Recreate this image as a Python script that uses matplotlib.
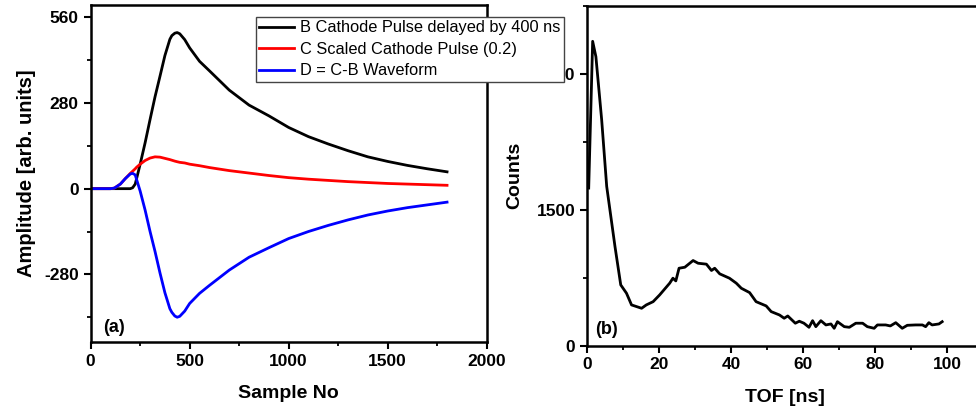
import numpy as np
import matplotlib
matplotlib.use("Agg")
import matplotlib.pyplot as plt
from matplotlib.ticker import MultipleLocator

plt.rcParams['font.family'] = ['Liberation Sans', 'DejaVu Sans']
plt.rcParams['axes.unicode_minus'] = False

# (a) waveforms
sample_no = [0, 100, 120, 150, 175, 200, 212, 225, 232, 250, 275, 300, 325, 350, 375,
             400, 410, 425, 437, 450, 475, 500, 550, 600, 700, 800, 900, 1000, 1100, 1200,
             1300, 1400, 1500, 1600, 1700, 1800]
pulse_b = [0, 0, 0, 0, 0, 0, 3, 15, 33, 80, 150, 226, 300, 367, 435,
           488, 500, 508, 510, 506, 487, 460, 416, 385, 322, 273, 238, 200, 170, 146,
           124, 104, 89, 76, 65, 55]
pulse_c = [0, 0, 2, 15, 33, 50, 57, 65, 70, 80, 92, 100, 104, 103, 99,
           95, 93, 90, 88, 86, 84, 80, 75, 69, 59, 51, 43, 36, 31, 27,
           23, 20, 17, 15, 13, 11]
pulse_d = [0, 0, 2, 15, 33, 48, 50, 45, 30, -8, -70, -140, -205, -275, -340,
           -392, -404, -416, -420, -417, -400, -375, -342, -316, -266, -224, -193, -163, -140, -120,
           -102, -86, -73, -62, -53, -44]

# (b) TOF spectrum
tof = [0.4, 1.5, 2.4, 4.0, 5.4, 7.7, 9.3, 10.9, 12.3, 15.1, 16.4, 18.3, 20.1, 22.9,
       23.8, 24.6, 25.5, 27.1, 29.4, 30.8, 33.1, 34.5, 35.4, 36.8, 39.5, 41.4, 42.8,
       45.1, 46.9, 49.7, 51.1, 53.4, 54.7, 55.7, 57.8, 58.9, 60.2, 61.6, 62.6, 63.5,
       64.9, 66.3, 67.7, 68.6, 69.5, 71.4, 72.8, 74.6, 76.5, 77.8, 79.7, 80.6, 82.9,
       84.2, 85.7, 87.5, 88.9, 91.2, 93.1, 94.0, 94.9, 95.8, 97.7, 98.6]
counts = [1740, 3360, 3190, 2495, 1758, 1095, 671, 579, 450, 413, 450, 486, 560, 690,
          745, 715, 855, 866, 940, 910, 900, 830, 855, 793, 745, 690, 634,
          586, 486, 439, 376, 339, 303, 328, 248, 270, 248, 203, 276, 210,
          276, 229, 240, 192, 265, 210, 203, 248, 248, 210, 192, 229, 229,
          218, 254, 192, 225, 229, 229, 210, 254, 229, 240, 265]

fig = plt.figure(figsize=(9.76, 4.18), dpi=100)
ax1 = fig.add_axes([0.0929, 0.1825, 0.4057, 0.8055])
ax2 = fig.add_axes([0.6017, 0.173, 0.4057, 0.8127])

lb, = ax1.plot(sample_no, pulse_b, color='black', lw=2.0, label='B Cathode Pulse delayed by 400 ns')
lc, = ax1.plot(sample_no, pulse_c, color='red', lw=2.0, label='C Scaled Cathode Pulse (0.2)')
ld, = ax1.plot(sample_no, pulse_d, color='blue', lw=2.0, label='D = C-B Waveform')
ax1.set_xlim(0, 2000)
ax1.set_ylim(-500, 600)
ax1.set_yticks([-280, 0, 280, 560])
ax1.xaxis.set_major_locator(MultipleLocator(500))
ax1.xaxis.set_minor_locator(MultipleLocator(250))
ax1.yaxis.set_minor_locator(MultipleLocator(140))
ax1.set_xlabel('Sample No', fontsize=14, fontweight='bold', labelpad=12)
ax1.set_ylabel('Amplitude [arb. units]', fontsize=14.5, fontweight='bold', labelpad=6)
ax1.text(0.032, 0.03, '(a)', transform=ax1.transAxes, fontsize=13, fontweight='bold')

ax2.plot(tof, counts, color='black', lw=2.0)
ax2.set_xlim(0, 110)
ax2.set_ylim(0, 3750)
ax2.set_yticks([0, 1500, 3000])
ax2.xaxis.set_major_locator(MultipleLocator(20))
ax2.xaxis.set_minor_locator(MultipleLocator(10))
ax2.yaxis.set_minor_locator(MultipleLocator(750))
ax2.set_xlabel('TOF [ns]', fontsize=14, fontweight='bold', labelpad=12)
ax2.set_ylabel('Counts', fontsize=14, fontweight='bold', labelpad=10)
ax2.text(0.02, 0.035, '(b)', transform=ax2.transAxes, fontsize=13, fontweight='bold')

for ax in (ax1, ax2):
    for s in ax.spines.values():
        s.set_linewidth(1.8)
    ax.tick_params(which='major', direction='out', length=5, width=1.5, labelsize=12.5)
    ax.tick_params(which='minor', direction='out', length=3, width=1.3)
    for t in ax.get_xticklabels() + ax.get_yticklabels():
        t.set_fontweight('bold')

leg = fig.legend(handles=[lb, lc, ld], loc='upper left',
                 bbox_to_anchor=(256 / 976, 1 - 17 / 418), bbox_transform=fig.transFigure,
                 fontsize=11.8, frameon=True, fancybox=False, framealpha=1,
                 borderpad=0.2, labelspacing=0.4, handlelength=2.1, handletextpad=0.4,
                 borderaxespad=0)
leg.get_frame().set_edgecolor('#444444')
leg.get_frame().set_linewidth(1.0)

fig.savefig('out.png', dpi=100)
